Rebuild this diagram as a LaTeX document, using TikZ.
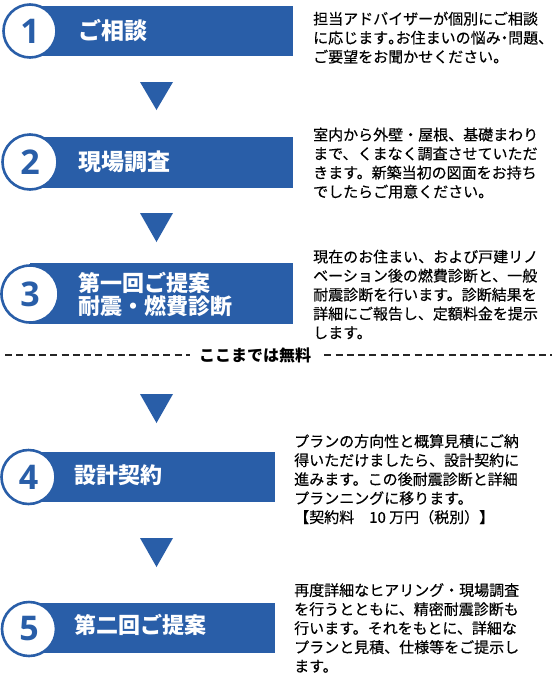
\documentclass[tikz,border=0pt]{standalone}
\usepackage{fontspec}
\setmainfont{Noto Sans CJK JP}
\newfontfamily\jp{Noto Sans CJK JP}
\newfontfamily\jpdesc[FakeBold=0.35]{Noto Sans CJK JP}
\newfontfamily\digits{Open Sans}
\definecolor{stepblue}{RGB}{41,94,168}
\begin{document}
\begin{tikzpicture}[x=1pt,y=-1pt,
  bannerbar/.style={fill=stepblue},
  numcirc/.style={circle,draw=stepblue,line width=2.6pt,fill=white,minimum size=#1,inner sep=0pt,
     text=stepblue,font=\digits\bfseries\fontsize{34}{34}\selectfont},
  numcirc/.default=53pt,
  bantext/.style={anchor=west,inner sep=0pt,text=white,font=\jp\bfseries\fontsize{23}{23}\selectfont},
  bantextsm/.style={bantext,font=\jp\bfseries\fontsize{22}{22}\selectfont},
  desc/.style={anchor=north west,inner sep=0pt,align=left,text=black,font=\jpdesc\fontsize{15}{19}\selectfont},
  tri/.style={fill=stepblue},
  sep/.style={line width=2pt,draw=black!85,dash pattern=on 7pt off 4.3pt}
]
\useasboundingbox (0,0) rectangle (556,673);

% step 1
\fill[bannerbar] (30,6) rectangle (293,56);
\node[numcirc] (c1) at (30,31) {1};
\node[bantext] (b1) at (78,31) {ご相談};
\node[desc] (d1) at (313,11.5) {担当アドバイザーが個別にご相談\\に応じます\makebox[0.5em][l]{。}お住まいの悩み\makebox[0.5em][c]{・}問題、\\ご要望をお聞かせください。};
\fill[tri] (140,82) -- (173,82) -- (156.5,110) -- cycle;

% step 2
\fill[bannerbar] (30,137) rectangle (293,188);
\node[numcirc=55pt] (c2) at (30,162) {2};
\node[bantext] (b2) at (78,162) {現場調査};
\node[desc] (d2) at (313,127.5) {室内から外壁・屋根、基礎まわり\\まで、くまなく調査させていただ\\きます。新築当初の図面をお持ち\\でしたらご用意ください。};
\fill[tri] (140,213) -- (173,213) -- (156.5,242) -- cycle;

% step 3
\fill[bannerbar] (30,263) rectangle (293,324);
\node[numcirc=57pt] (c3) at (30,294) {3};
\node[bantext,align=left,font=\jp\bfseries\fontsize{22}{23}\selectfont] (b3) at (78,294.5) {第一回ご提案\\耐震・燃費診断};
\node[desc] (d3) at (313,249.5) {現在のお住まい、および戸建リノ\\ベーション後の燃費診断と、一般\\耐震診断を行います。診断結果を\\詳細にご報告し、定額料金を提示\\します。};

% free line
\node[inner sep=0pt,font=\jp\bfseries\fontsize{16}{16}\selectfont] (free) at (255,355) {ここまでは無料};
\coordinate (dl) at (5,355);
\coordinate (dr) at (552,355);
\draw[sep] (dl) -- ([xshift=-9pt]free.west);
\draw[sep] ([xshift=13pt]free.east) -- (dr);

\fill[tri] (140,394) -- (173,394) -- (156.5,423) -- cycle;

% step 4
\fill[bannerbar] (30,452) rectangle (275,502);
\node[numcirc=54pt] (c4) at (28.5,477) {4};
\node[bantextsm] (b4) at (74,475) {設計契約};
\node[desc] (d4) at (294,434) {プランの方向性と概算見積にご納\\得いただけましたら、設計契約に\\進みます。この後耐震診断と詳細\\プランニングに移ります。\\【契約料　10 万円（税別）】};
\fill[tri] (140,538) -- (173,538) -- (156.5,567) -- cycle;

% step 5
\fill[bannerbar] (30,603) rectangle (275,653);
\node[numcirc=54pt] (c5) at (29,629) {5};
\node[bantextsm] (b5) at (74,625) {第二回ご提案};
\node[desc] (d5) at (294,583) {再度詳細なヒアリング・現場調査\\を行うとともに、精密耐震診断も\\行います。それをもとに、詳細な\\プランと見積、仕様等をご提示し\\ます。};
\end{tikzpicture}
\end{document}
